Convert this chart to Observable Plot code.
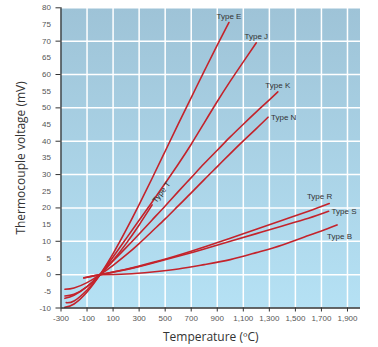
<!DOCTYPE html>
<html><head><meta charset="utf-8">
<script src="https://cdn.jsdelivr.net/npm/d3@7"></script>
<script src="https://cdn.jsdelivr.net/npm/@observablehq/plot@0.6"></script>
<style>body{margin:0;background:#fff}</style>
</head><body><div id="chart"></div>
<script>
// Temperature (°C) and voltage (mV) per thermocouple type
const typeE_T  = [-270, -200, -100, 0, 100, 200, 300, 400, 500, 600, 700, 800, 900, 990];
const typeE_mV = [-9.8, -8.8, -5.2, 0, 6.3, 13.4, 21.0, 28.9, 37.0, 45.1, 53.1, 61.0, 68.8, 75.6];
const typeJ_T  = [-260, -200, -100, 0, 100, 200, 300, 400, 500, 600, 700, 800, 900, 1000, 1100, 1200];
const typeJ_mV = [-8.4, -7.9, -4.6, 0, 5.3, 10.8, 16.3, 21.8, 27.4, 33.1, 39.1, 45.5, 51.9, 58.0, 63.8, 69.5];
const typeK_T  = [-270, -200, -100, 0, 100, 200, 300, 400, 500, 600, 700, 800, 900, 1000, 1100, 1200, 1300, 1365];
const typeK_mV = [-6.4, -5.9, -3.6, 0, 4.1, 8.1, 12.2, 16.4, 20.6, 24.9, 29.1, 33.3, 37.3, 41.3, 45.1, 48.8, 52.4, 54.8];
const typeN_T  = [-270, -200, -100, 0, 100, 200, 300, 400, 500, 600, 700, 800, 900, 1000, 1100, 1200, 1290];
const typeN_mV = [-4.4, -4.0, -2.4, 0, 2.8, 5.9, 9.3, 13.0, 16.7, 20.6, 24.5, 28.5, 32.4, 36.3, 40.1, 43.8, 47.2];
const typeT_T  = [-270, -200, -100, 0, 100, 200, 300, 400];
const typeT_mV = [-7.1, -6.2, -3.6, 0, 4.3, 9.3, 14.9, 20.9];
const typeR_T  = [-125, 0, 200, 400, 600, 800, 1000, 1200, 1400, 1600, 1760];
const typeR_mV = [-1.0, 0, 1.6, 3.6, 5.8, 8.3, 10.9, 13.6, 16.3, 19.0, 21.3];
const typeS_T  = [-125, 0, 200, 400, 600, 800, 1000, 1200, 1400, 1600, 1755];
const typeS_mV = [-0.95, 0, 1.5, 3.4, 5.5, 7.7, 10.0, 12.3, 14.6, 16.9, 19.0];
const typeB_T  = [0, 200, 400, 600, 800, 1000, 1200, 1400, 1600, 1700, 1820];
const typeB_mV = [0, 0.2, 0.8, 1.7, 3.0, 4.5, 6.6, 8.9, 11.7, 13.1, 14.9];

const seriesNames = ["Type E", "Type J", "Type K", "Type N", "Type T", "Type R", "Type S", "Type B"];
const seriesT  = [typeE_T, typeJ_T, typeK_T, typeN_T, typeT_T, typeR_T, typeS_T, typeB_T];
const seriesMV = [typeE_mV, typeJ_mV, typeK_mV, typeN_mV, typeT_mV, typeR_mV, typeS_mV, typeB_mV];

const xTicks = [-300, -100, 100, 300, 500, 700, 900, 1100, 1300, 1500, 1700, 1900];
const xTickLabels = ["-300", "-100", "100", "300", "500", "700", "900", "1,100", "1,300", "1,500", "1,700", "1,900"];
const yTickLabels = [-10, -5, 0, 5, 10, 15, 20, 25, 30, 35, 40, 45, 50, 55, 60, 65, 70, 75, 80];
const yMajor = [-10, 0, 10, 20, 30, 40, 50, 60, 70, 80];
const xTitle = "Temperature (ºC)";
const yTitle = "Thermocouple voltage (mV)";

// build tables
const points = [];
seriesNames.forEach((name, s) => {
  seriesT[s].forEach((t, i) => points.push({type: name, t, mv: seriesMV[s][i]}));
});
const ends = {};
seriesNames.forEach((name, s) => {
  const n = seriesT[s].length;
  ends[name] = {type: name, t: seriesT[s][n - 1], mv: seriesMV[s][n - 1]};
});
const xLabelMap = new Map(xTicks.map((d, i) => [d, xTickLabels[i]]));

function background(index, scales, values, dims) {
  const g = d3.create("svg:g");
  const grad = g.append("defs").append("linearGradient")
    .attr("id", "bggrad").attr("x1", 0).attr("y1", 0).attr("x2", 0).attr("y2", 1);
  grad.append("stop").attr("offset", "0%").attr("stop-color", "#9ec3d7");
  grad.append("stop").attr("offset", "100%").attr("stop-color", "#b5e1f4");
  g.append("rect")
    .attr("x", dims.marginLeft).attr("y", dims.marginTop)
    .attr("width", dims.width - dims.marginLeft - dims.marginRight)
    .attr("height", dims.height - dims.marginTop - dims.marginBottom)
    .attr("fill", "url(#bggrad)");
  return g.node();
}

const red = "#c4232b";
const labelFont = {fontSize: 8, fill: "#333", fontFamily: "Liberation Sans, Arial, sans-serif"};

const chart = Plot.plot({
  width: 378,
  height: 347,
  marginLeft: 60.5,
  marginRight: 18,
  marginTop: 7.3,
  marginBottom: 39.5,
  style: {background: "#fff", fontFamily: "Liberation Sans, Arial, sans-serif"},
  x: {domain: [-300, 2000]},
  y: {domain: [-10, 80]},
  marks: [
    background,
    Plot.ruleX(xTicks.slice(1), {stroke: "#fff", strokeWidth: 1.5}),
    Plot.ruleY(yMajor.slice(1), {stroke: "#fff", strokeWidth: 1.5}),
    Plot.line(points, {x: "t", y: "mv", z: "type", stroke: red, strokeWidth: 1.6, curve: "natural"}),
    Plot.ruleX([-300], {stroke: "#333", strokeWidth: 1.3}),
    Plot.ruleY([-10], {stroke: "#333", strokeWidth: 1.3}),
    Plot.axisX(xTicks, {tickSize: 4, tickPadding: 3, stroke: "#333", fill: "#555", fontSize: 8, tickFormat: d => xLabelMap.get(d), label: null}),
    Plot.axisY(yTickLabels, {tickSize: 0, tickPadding: 10, fill: "#555", fontSize: 8, tickFormat: d => String(d), label: null}),
    Plot.axisY(yMajor, {tickSize: 5, stroke: "#333", tickFormat: () => "", label: null}),
    // curve labels
    Plot.text([ends["Type E"], ends["Type J"], ends["Type K"]], {x: "t", y: "mv", text: "type", dy: -6.5, textAnchor: "middle", ...labelFont}),
    Plot.text([ends["Type N"], ends["Type S"]], {x: "t", y: "mv", text: "type", dx: 3, textAnchor: "start", ...labelFont}),
    Plot.text([ends["Type R"]], {x: "t", y: "mv", text: "type", dx: 3, dy: -7, textAnchor: "end", ...labelFont}),
    Plot.text([ends["Type B"]], {x: "t", y: "mv", text: "type", dx: -10, dy: 11, textAnchor: "start", ...labelFont}),
    Plot.text([ends["Type T"]], {x: "t", y: "mv", text: "type", dx: 2, dy: -3, rotate: -53, textAnchor: "start", ...labelFont}),
    // axis titles
    Plot.text([xTitle], {frameAnchor: "bottom", dy: 29.2, lineAnchor: "middle", textAnchor: "middle", fontSize: 12, fill: "#333", fontFamily: "Open Sans, sans-serif"}),
    Plot.text([yTitle], {frameAnchor: "left", dx: -40, rotate: -90, lineAnchor: "middle", textAnchor: "middle", fontSize: 12, fill: "#333", fontFamily: "Open Sans, sans-serif"})
  ]
});
document.getElementById("chart").appendChild(chart);
</script>
</body></html>
